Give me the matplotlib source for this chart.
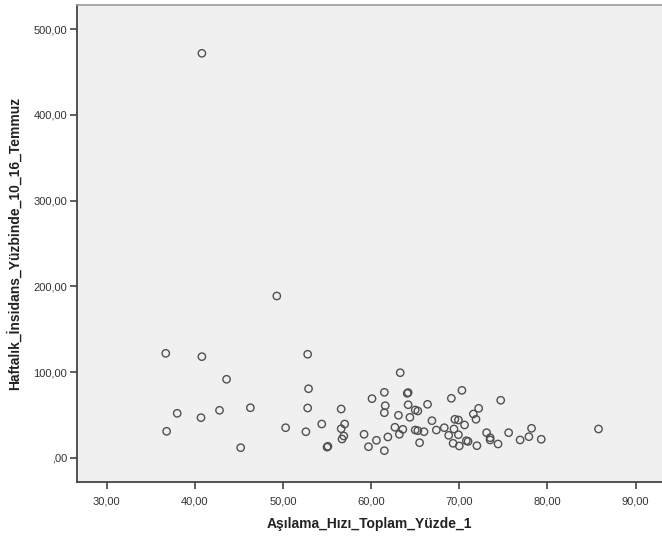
import matplotlib
matplotlib.use("Agg")
import matplotlib.pyplot as plt

plt.rcParams['font.family'] = ['Liberation Sans', 'DejaVu Sans']

asilama = [36.7, 40.8, 43.6, 38.0, 40.7, 42.8, 36.8, 45.2, 46.3, 50.3,
           52.8, 52.9, 52.8, 52.6, 54.4, 55.1, 55.0, 56.6, 57.0, 56.6,
           56.9, 56.7, 59.2, 59.7, 60.6, 61.5, 61.9, 60.1, 61.5, 61.6,
           61.5, 62.7, 63.2, 63.6, 63.1, 63.3, 64.1, 64.2, 64.2, 64.4,
           65.0, 65.3, 65.0, 65.3, 65.5, 66.0, 66.4, 66.9, 67.4, 68.3,
           68.8, 69.1, 69.4, 69.3, 69.5, 69.9, 69.9, 70.0, 70.3, 70.6,
           70.8, 71.0, 71.6, 72.0, 72.2, 71.9, 74.7, 73.1, 73.5, 73.5,
           74.4, 75.6, 76.9, 77.9, 78.2, 79.3, 85.8, 49.3, 40.8]
insidans = [121.8, 117.9, 91.5, 51.8, 46.7, 55.3, 30.8, 11.7, 58.3, 35.0,
            120.7, 80.5, 58.0, 30.3, 39.3, 13.3, 12.3, 56.8, 39.3, 33.8,
            25.3, 21.8, 27.3, 12.8, 20.3, 8.2, 24.2, 68.9, 76.3, 60.7,
            52.5, 35.5, 27.3, 33.1, 49.5, 99.2, 75.1, 76.0, 61.8, 47.1,
            55.7, 54.5, 32.3, 31.5, 17.5, 30.3, 62.3, 43.2, 32.3, 35.0,
            26.1, 69.3, 33.5, 16.8, 44.8, 44.0, 26.8, 13.7, 78.6, 38.2,
            19.8, 19.0, 51.0, 14.0, 57.6, 44.8, 67.0, 29.2, 23.3, 20.7,
            16.0, 29.2, 20.7, 24.5, 34.3, 21.5, 33.5, 188.7, 471.9]

x_ticks = [30, 40, 50, 60, 70, 80, 90]
x_tick_labels = ["30,00", "40,00", "50,00", "60,00", "70,00", "80,00", "90,00"]
y_ticks = [0, 100, 200, 300, 400, 500]
y_tick_labels = [",00", "100,00", "200,00", "300,00", "400,00", "500,00"]

fig = plt.figure(figsize=(6.62, 5.37), dpi=100)
fig.patch.set_facecolor('white')
ax = fig.add_axes([0.1159, 0.103, 0.8841, 0.8882])
ax.set_facecolor('#F0F0F0')

ax.scatter(asilama, insidans, s=28, facecolors='none', edgecolors='#505050',
           linewidths=1.0, zorder=3)

ax.set_xlim(26.6, 93.0)
ax.set_ylim(-28.0, 528.6)

ax.set_xticks(x_ticks)
ax.set_xticklabels(x_tick_labels)
ax.set_yticks(y_ticks)
ax.set_yticklabels(y_tick_labels)

ax.spines['right'].set_visible(False)
ax.spines['top'].set_color('#9a9a9a')
ax.spines['top'].set_linewidth(1.2)
for s in ['left', 'bottom']:
    ax.spines[s].set_color('#444444')
    ax.spines[s].set_linewidth(1.3)

ax.tick_params(axis='both', direction='out', length=5, width=1.2,
               color='#444444', labelsize=8, labelcolor='#333333', pad=2)
ax.tick_params(axis='x', pad=6)

ax.set_xlabel("Aşılama_Hızı_Toplam_Yüzde_1", fontsize=10, fontweight='bold',
              color='#222222', labelpad=7)
ax.set_ylabel("Haftalık_İnsidans_Yüzbinde_10_16_Temmuz", fontsize=10,
              fontweight='bold', color='#222222', labelpad=8)

fig.savefig("out.png", dpi=100)
